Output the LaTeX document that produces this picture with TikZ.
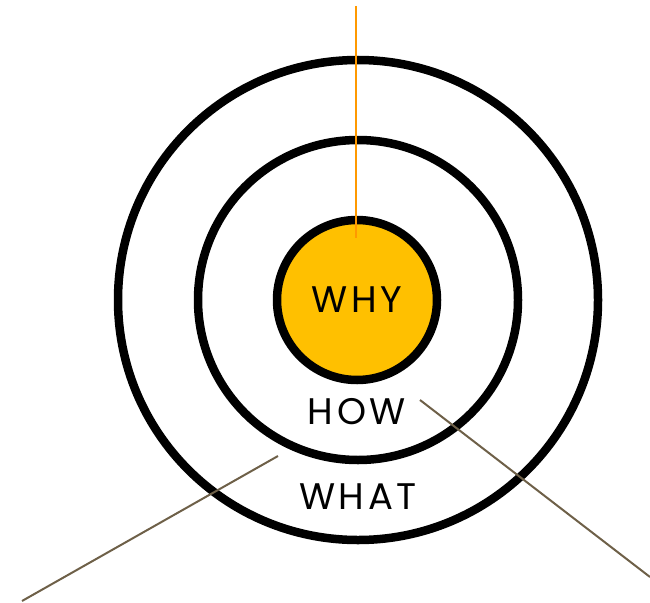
\documentclass[tikz,border=0pt]{standalone}
\usepackage{fontspec}
\newfontfamily\lbl[LetterSpace=10]{Poppins}
\definecolor{gold}{HTML}{FFC000}
\definecolor{orangeline}{HTML}{FF9900}
\definecolor{brownline}{HTML}{6E6048}
\begin{document}
\begin{tikzpicture}[x=1pt,y=-1pt,
  ring/.style={draw=black,line width=8.5pt,circle,inner sep=0pt},
  lead/.style={line width=2pt},
  word/.style={font=\lbl\fontsize{37}{37}\selectfont,inner sep=0pt}]
\useasboundingbox (0,0) rectangle (650,602);
\node[ring,minimum size=480pt] (outer) at (358,300) {};
\node[ring,minimum size=320pt] (middle) at (358,300) {};
\node[ring,minimum size=160pt,fill=gold] (inner) at (357,300) {};
\node[word] (why) at (357,300) {WHY};
\node[word] (how) at (357,412) {HOW};
\node[word] (what) at (358,497) {WHAT};
\coordinate (ot) at (356,6);
\coordinate (oe) at (356,238);
\draw[lead,orangeline] (ot) -- (oe);
\coordinate (la) at (278,456);
\coordinate (lb) at (22,601);
\draw[lead,brownline] (la) -- (lb);
\coordinate (ra) at (420,400);
\coordinate (rb) at (650,577);
\draw[lead,brownline] (ra) -- (rb);
\end{tikzpicture}
\end{document}
